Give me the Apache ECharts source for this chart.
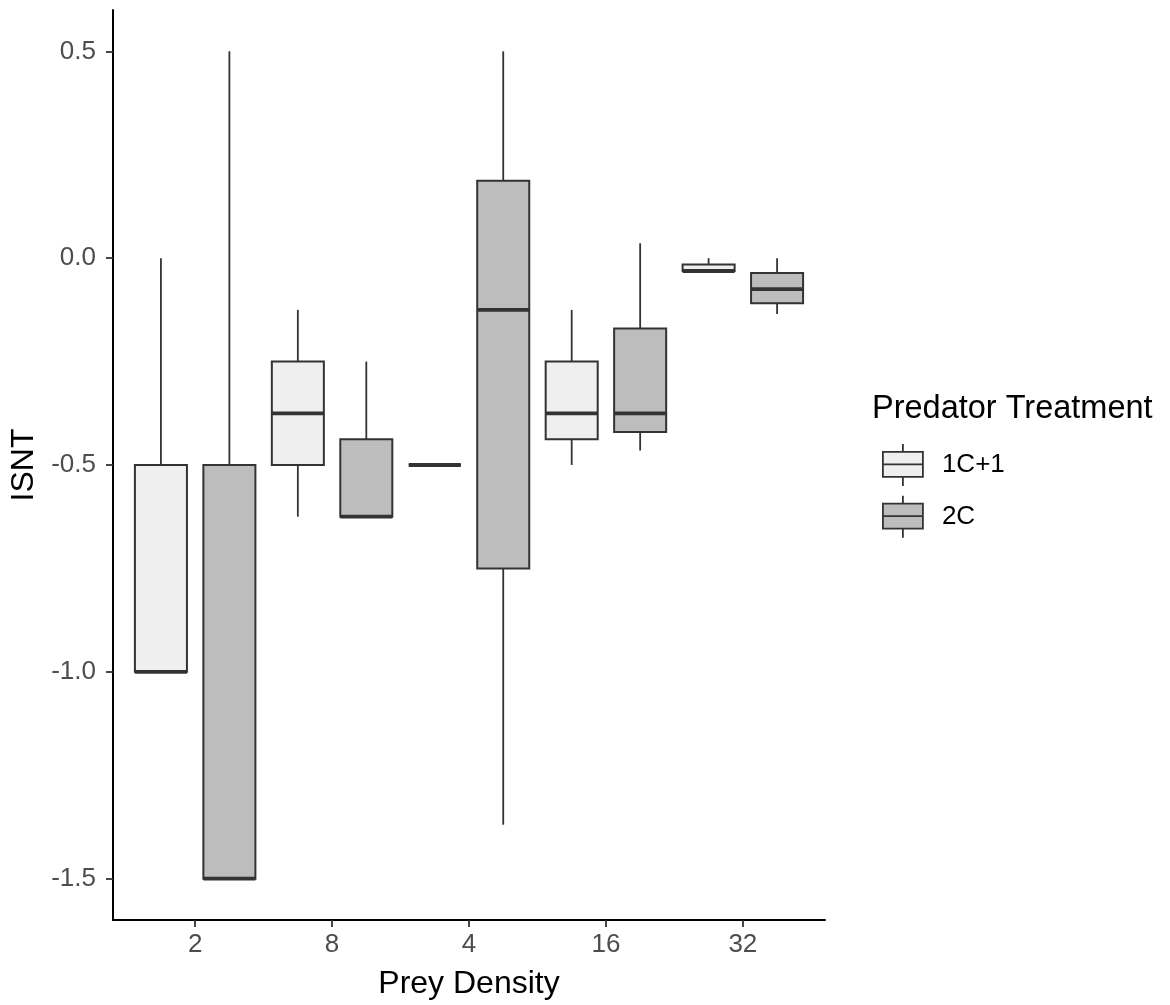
<!DOCTYPE html>
<html>
<head>
<meta charset="utf-8">
<script src="https://cdn.jsdelivr.net/npm/echarts@6/dist/echarts.min.js"></script>
<style>
    html, body { margin: 0; padding: 0; background: #fff; }
    #chart { width: 1170px; height: 1005px; }
</style>
</head>
<body>
<div id="chart"></div>
<script>
// prey density levels, in the order they sit on the axis
var categories = ['2', '8', '4', '16', '32'];
var groups = ['1C+1', '2C'];
var yTicks = [-1.5, -1.0, -0.5, 0.0, 0.5];

// one box per density: [min, Q1, median, Q3, max]
var box1C1 = [
    [-1.0, -1.0, -1.0, -0.5, 0.0],
    [-0.625, -0.5, -0.375, -0.25, -0.125],
    [-0.5, -0.5, -0.5, -0.5, -0.5],
    [-0.5, -0.4375, -0.375, -0.25, -0.125],
    [-0.031, -0.031, -0.031, -0.015, 0.0]
];
var box2C = [
    [-1.5, -1.5, -1.5, -0.5, 0.5],
    [-0.625, -0.625, -0.625, -0.4375, -0.25],
    [-1.37, -0.75, -0.125, 0.1875, 0.5],
    [-0.465, -0.42, -0.375, -0.17, 0.036],
    [-0.135, -0.109, -0.075, -0.036, 0.0]
];

var FILLS = ['#efefef', '#bdbdbd'];
var LINE = '#333333';
var DODGE = 0.25;   // box centre offset from category, in category units
var HALF = 0.19;    // half box width, in category units
var FONT = '"Liberation Sans", Arial, sans-serif';

function withIndex(rows)
{
    return rows.map(function (r, i) {
        return [i + 1].concat(r);
    });
}

function boxRenderer(offset)
{
    return function (params, api) {
        var c = api.value(0) + offset;
        var lo = api.value(1), q1 = api.value(2), med = api.value(3);
        var q3 = api.value(4), hi = api.value(5);
        var tl = api.coord([c - HALF, q3]);
        var br = api.coord([c + HALF, q1]);
        var top = api.coord([c, hi]);
        var bot = api.coord([c, lo]);
        var mL = api.coord([c - HALF, med]);
        var mR = api.coord([c + HALF, med]);
        var fill = api.visual('color');
        var thin = { stroke: LINE, lineWidth: 1.8 };
        return {
            type: 'group',
            children: [
                { type: 'line', shape: { x1: top[0], y1: top[1], x2: top[0], y2: tl[1] }, style: thin },
                { type: 'line', shape: { x1: bot[0], y1: br[1], x2: bot[0], y2: bot[1] }, style: thin },
                { type: 'rect',
                  shape: { x: tl[0], y: tl[1], width: br[0] - tl[0], height: br[1] - tl[1] },
                  style: { fill: fill, stroke: LINE, lineWidth: 2 } },
                { type: 'line', shape: { x1: mL[0], y1: mL[1], x2: mR[0], y2: mR[1] },
                  style: { stroke: LINE, lineWidth: 3.8 } }
            ]
        };
    };
}

var chart = echarts.init(document.getElementById('chart'));

var option = {
    backgroundColor: '#ffffff',
    animation: false,
    textStyle: { fontFamily: FONT },
    title: {
        text: 'Predator Treatment',
        left: 872,
        top: 393,
        padding: 0,
        textStyle: { fontFamily: FONT, fontSize: 32.5, fontWeight: 'normal', color: '#000' }
    },
    legend: {
        orient: 'vertical',
        left: 882,
        top: 443,
        padding: 0,
        itemWidth: 40,
        itemHeight: 42,
        itemGap: 8,
        icon: 'path://M20,0L20,8M0,8L40,8L40,33L0,33ZM0,20.5L40,20.5M20,33L20,42',
        itemStyle: { borderColor: LINE, borderWidth: 1.8 },
        textStyle: { fontFamily: FONT, fontSize: 26, color: '#000', padding: [0, 0, 0, 14] },
        data: groups
    },
    grid: { left: 113, top: 10, right: 345, bottom: 85, containLabel: false },
    xAxis: {
        type: 'value',
        min: 0.4,
        max: 5.6,
        name: 'Prey Density',
        nameLocation: 'middle',
        nameGap: 48,
        nameTextStyle: { fontFamily: FONT, fontSize: 32, color: '#000' },
        axisLine: { onZero: false, lineStyle: { color: '#000', width: 2 } },
        axisTick: { customValues: [1, 2, 3, 4, 5], length: 7, lineStyle: { color: LINE, width: 1.8 } },
        axisLabel: {
            customValues: [1, 2, 3, 4, 5],
            margin: 12,
            fontFamily: FONT,
            fontSize: 26,
            color: '#4d4d4d',
            formatter: function (v) { return categories[Math.round(v) - 1]; }
        },
        splitLine: { show: false }
    },
    yAxis: {
        type: 'value',
        min: -1.6,
        max: 0.6,
        name: 'ISNT',
        nameLocation: 'middle',
        nameGap: 66,
        nameTextStyle: { fontFamily: FONT, fontSize: 32, color: '#000' },
        axisLine: { show: true, onZero: false, lineStyle: { color: '#000', width: 2 } },
        axisTick: { show: true, customValues: yTicks, length: 7, lineStyle: { color: LINE, width: 1.8 } },
        axisLabel: {
            customValues: yTicks,
            margin: 17,
            fontFamily: FONT,
            fontSize: 26,
            color: '#4d4d4d',
            formatter: function (v) { return v.toFixed(1); }
        },
        splitLine: { show: false }
    },
    series: [
        {
            name: groups[0],
            type: 'custom',
            renderItem: boxRenderer(-DODGE),
            itemStyle: { color: FILLS[0] },
            encode: { x: 0, y: [1, 2, 3, 4, 5] },
            data: withIndex(box1C1)
        },
        {
            name: groups[1],
            type: 'custom',
            renderItem: boxRenderer(DODGE),
            itemStyle: { color: FILLS[1] },
            encode: { x: 0, y: [1, 2, 3, 4, 5] },
            data: withIndex(box2C)
        }
    ]
};

chart.setOption(option);
</script>
</body>
</html>
